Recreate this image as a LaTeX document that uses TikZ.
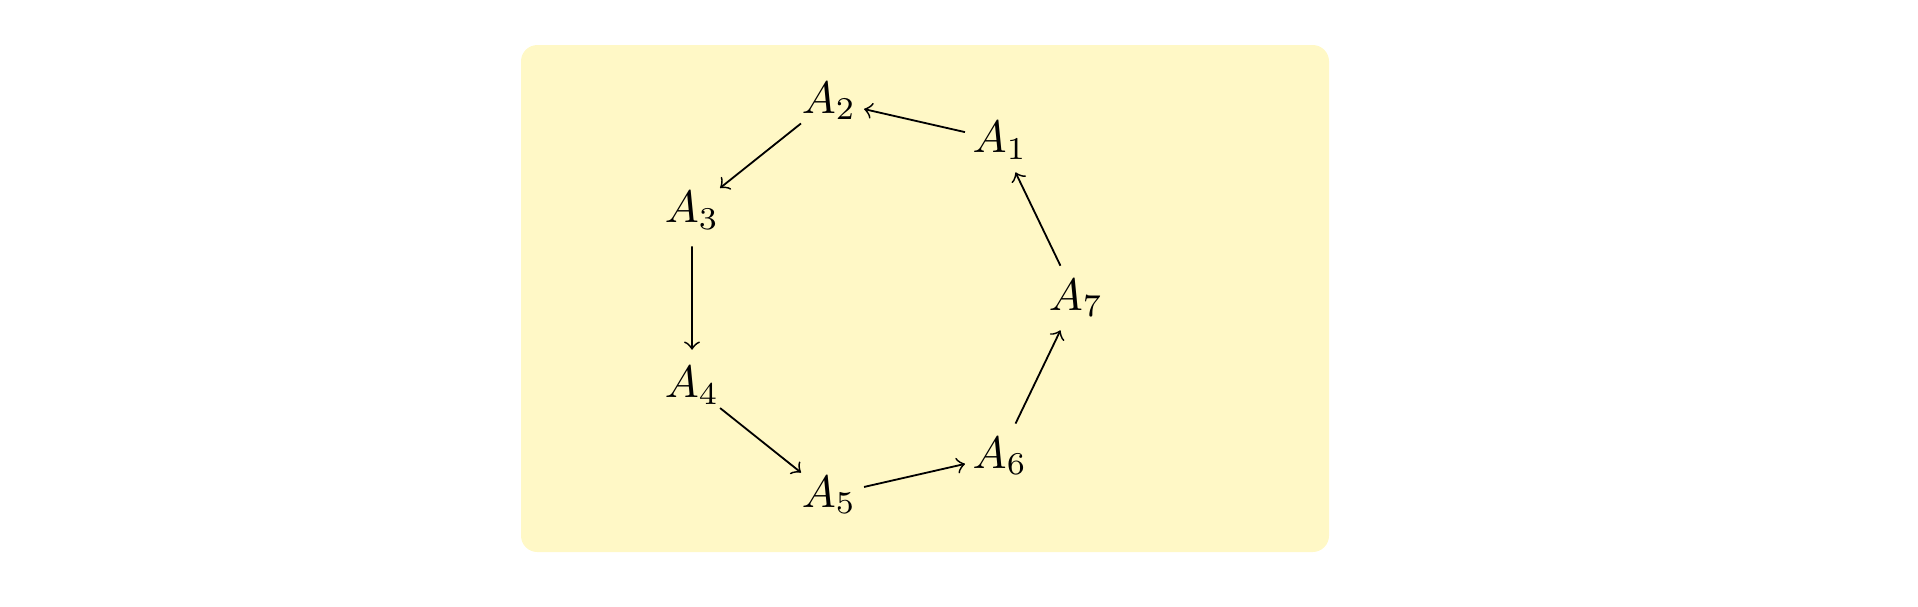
\documentclass[tikz,border=0pt]{standalone}
\definecolor{boxfill}{RGB}{255,248,198}
\begin{document}
\begin{tikzpicture}[x=0.2203pt, y=-0.2203pt,
  vert/.style={circle, inner sep=0.3pt},
  link/.style={->}]
\useasboundingbox (0,0) rectangle (1918,606);
\fill[boxfill, rounded corners=3.6pt] (521,45) rectangle (1329,552);
\foreach \i in {1,...,7} {
  \pgfmathsetmacro{\ang}{360/7*\i}
  \node[vert] (A\i) at ({874+202*cos(\ang)}, {298-202*sin(\ang)}) {$A_{\i}$};
}
\draw[link] (A1) -- (A2);
\draw[link] (A2) -- (A3);
\draw[link] (A3) -- (A4);
\draw[link] (A4) -- (A5);
\draw[link] (A5) -- (A6);
\draw[link] (A6) -- (A7);
\draw[link] (A7) -- (A1);
\end{tikzpicture}
\end{document}
